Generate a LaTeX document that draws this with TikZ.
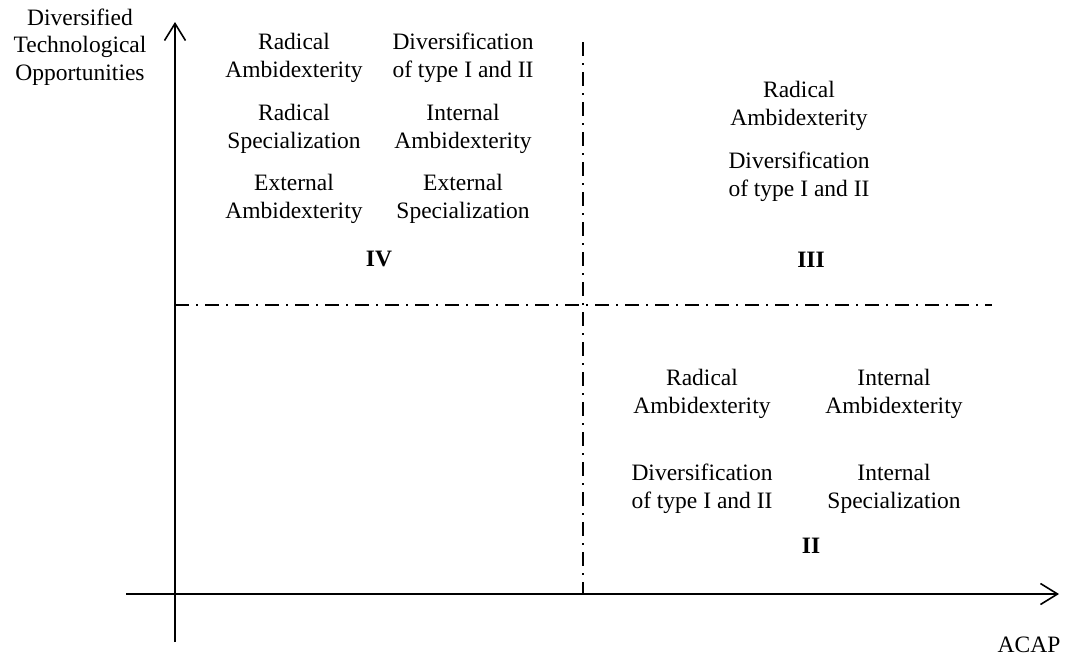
\documentclass[tikz,border=0pt]{standalone}
\usepackage{fontspec}
\setmainfont{Liberation Serif}
\usetikzlibrary{arrows.meta}
\begin{document}
\begin{tikzpicture}[x=1pt,y=-1pt,
  axis/.style={line width=1.6pt,-{Straight Barb[length=17pt,width=21pt,line width=1.6pt]}},
  divider/.style={line width=1.4pt,dash pattern=on 14pt off 7pt on 2pt off 7pt},
  txt/.style={align=center,inner sep=0pt,anchor=base,font=\fontsize{23.5}{27.5}\selectfont},
  quad/.style={inner sep=0pt,anchor=base,font=\fontsize{23.5}{27.5}\selectfont\bfseries}]
\useasboundingbox (0,0) rectangle (1066,657);

% axes
\coordinate (xs) at (126,594);
\coordinate (xe) at (1059,594);
\coordinate (ys) at (175,642);
\coordinate (ye) at (175,22);
\draw[axis] (xs) -- (xe);
\draw[axis] (ys) -- (ye);

% quadrant dividers
\coordinate (vt) at (583,42);
\coordinate (vb) at (583,594);
\coordinate (hl) at (175,305);
\coordinate (hr) at (992,305);
\draw[divider] (vt) -- (vb);
\draw[divider] (hl) -- (hr);

% axis labels (positions give the baseline of the last line)
\node[txt] (ylab) at (80,80) {Diversified\\Technological\\Opportunities};
\node[txt] (xlab) at (1029,652) {ACAP};

% quadrant IV
\node[txt] (q4a) at (294,77) {Radical\\Ambidexterity};
\node[txt] (q4b) at (463,77) {Diversification\\of type I and II};
\node[txt] (q4c) at (294,148) {Radical\\Specialization};
\node[txt] (q4d) at (463,148) {Internal\\Ambidexterity};
\node[txt] (q4e) at (294,218) {External\\Ambidexterity};
\node[txt] (q4f) at (463,218) {External\\Specialization};
\node[quad] (q4) at (379,266) {IV};

% quadrant III
\node[txt] (q3a) at (799,125) {Radical\\Ambidexterity};
\node[txt] (q3b) at (799,196) {Diversification\\of type I and II};
\node[quad] (q3) at (811,267) {III};

% quadrant II
\node[txt] (q2a) at (702,413) {Radical\\Ambidexterity};
\node[txt] (q2b) at (894,413) {Internal\\Ambidexterity};
\node[txt] (q2c) at (702,508) {Diversification\\of type I and II};
\node[txt] (q2d) at (894,508) {Internal\\Specialization};
\node[quad] (q2) at (811,553) {II};
\end{tikzpicture}
\end{document}
